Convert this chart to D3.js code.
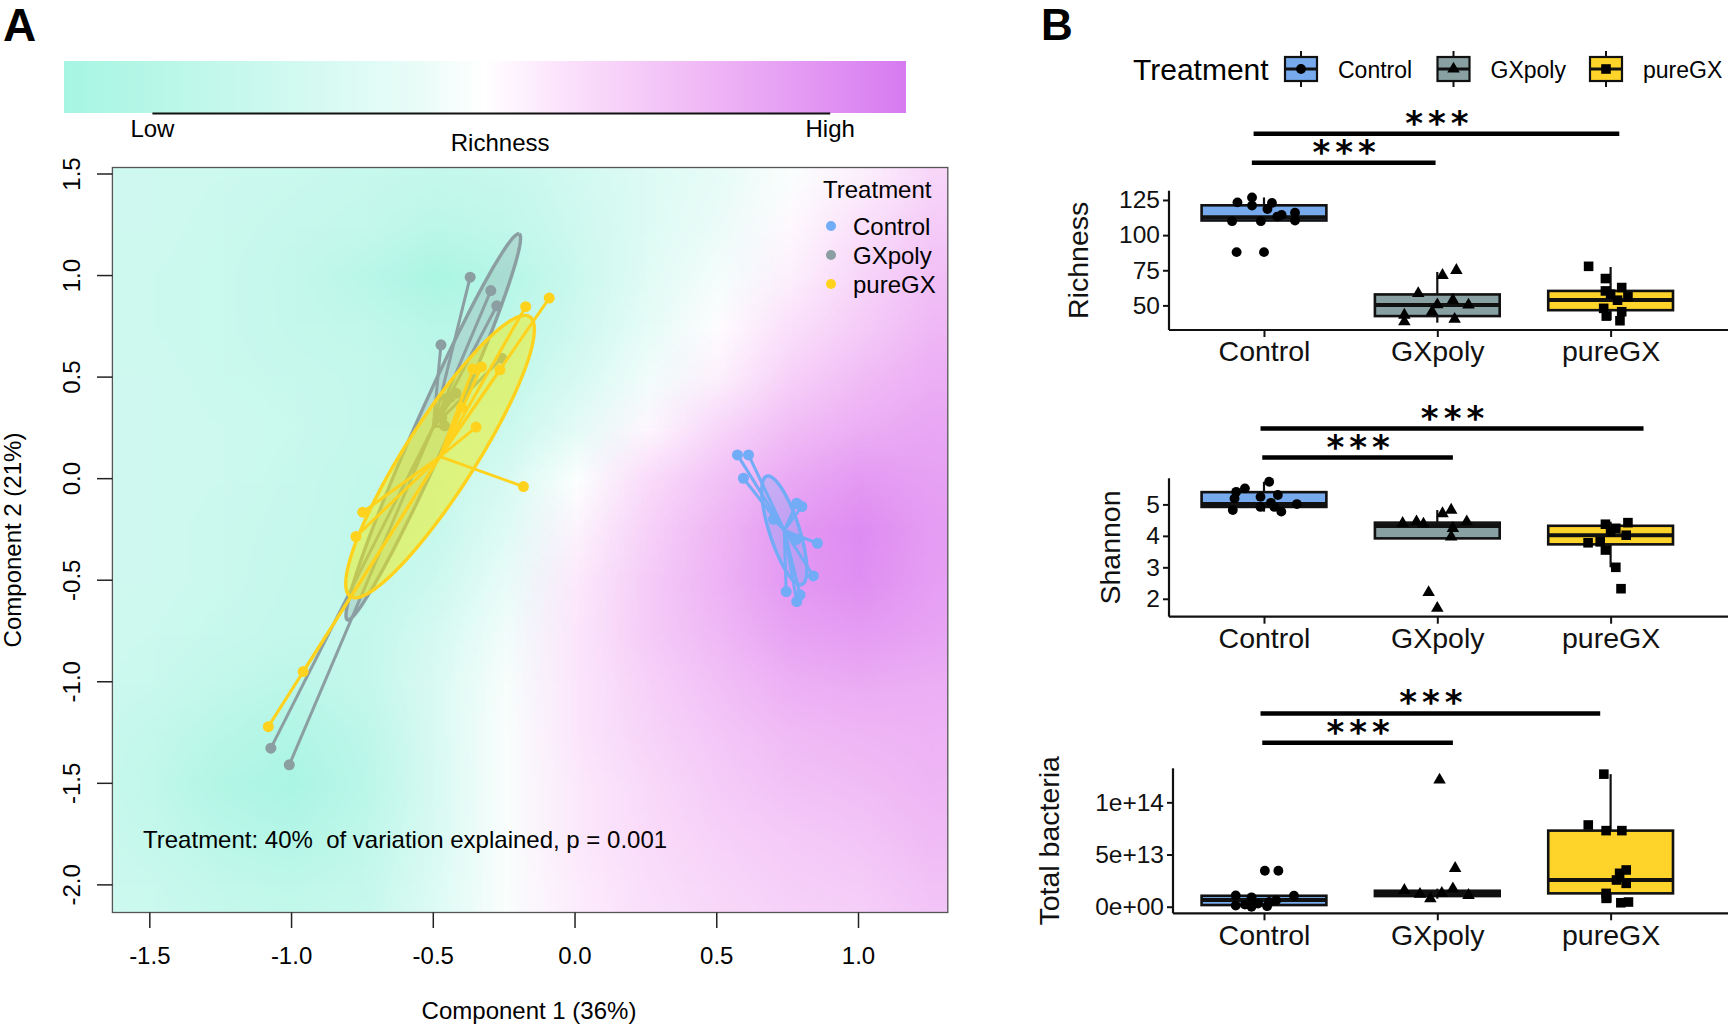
<!DOCTYPE html>
<html><head><meta charset="utf-8">
<script src="https://cdn.jsdelivr.net/npm/d3@7"></script>
<style>
body{margin:0;background:#fff;}
svg{display:block;font-family:"Liberation Sans",Arial,Helvetica,sans-serif;}
</style></head><body>
<svg id="chart" width="1728" height="1029"></svg>
<script>
// ================= DATA =================
const groups = ["Control", "GXpoly", "pureGX"];

// ---- Panel A: ordination scores [Component 1, Component 2]
const pcaControl = [[0.573,0.117],[0.612,0.117],[0.594,0.002],[0.782,-0.121],[0.800,-0.137],[0.855,-0.318],[0.841,-0.479],[0.745,-0.556],[0.794,-0.572],[0.782,-0.605],[0.70,-0.20],[0.78,-0.30]];
const pcaGXpoly = [[-0.370,0.992],[-0.297,0.926],[-0.276,0.851],[-0.473,0.659],[-0.259,0.593],[-1.073,-1.327],[-1.008,-1.409],[-0.47,0.30],[-0.42,0.42],[-0.46,0.26],[-0.44,0.40],[-0.454,0.395]];
const pcaPureGX = [[-0.091,0.889],[-0.174,0.847],[-0.265,0.536],[-0.349,0.254],[-0.182,-0.039],[-0.749,-0.165],[-0.773,-0.285],[-0.959,-0.950],[-1.082,-1.221],[-0.40,0.35],[-0.33,0.55],[-0.36,0.54]];
// ellipse semi-axis vectors (data units): [major dx, major dy, minor dx, minor dy]
const ellipseControl = [0.0618, -0.267, 0.050, 0.0227];
const ellipseGXpoly = [0.303, 0.950, 0.0548, -0.0340];
const ellipsePureGX = [0.316, 0.689, 0.104, -0.093];

const pcaXTicks = [-1.5, -1.0, -0.5, 0.0, 0.5, 1.0];
const pcaXTickLabels = ["-1.5", "-1.0", "-0.5", "0.0", "0.5", "1.0"];
const pcaYTicks = [1.5, 1.0, 0.5, 0.0, -0.5, -1.0, -1.5, -2.0];
const pcaYTickLabels = ["1.5", "1.0", "0.5", "0.0", "-0.5", "-1.0", "-1.5", "-2.0"];

// fitted richness surface (relative, 0 = low, 100 = high) on a grid
const surfaceX = [-1.75,-1.5,-1.25,-1.0,-0.75,-0.5,-0.25,0,0.25,0.5,0.75,1.0,1.25,1.5];
const surfaceY = [1.75,1.5,1.25,1.0,0.75,0.5,0.25,0,-0.25,-0.5,-0.75,-1.0,-1.25,-1.5,-1.75,-2.0,-2.25];
const surfaceRichness = [
  [25,25,25,24,23,22,26,33,40,45,50,56,62,64],
  [26,26,25,23,21,19,21,28,35,41,48,55,64,66],
  [26,26,24,21,19,14,17,26,35,43,52,60,68,70],
  [26,25,23,19,13, 4,10,24,37,46,55,64,73,74],
  [26,25,23,20,17,12,14,26,40,51,60,68,76,77],
  [27,26,24,22,20,15,18,31,45,55,66,74,80,80],
  [27,26,25,23,20,18,24,39,53,64,74,80,83,82],
  [27,26,25,22,18,19,31,49,62,72,82,88,85,84],
  [27,26,24,21,17,21,36,54,66,77,88,93,87,84],
  [27,26,24,20,17,25,42,57,68,78,88,92,86,83],
  [27,25,22,19,19,30,45,58,68,76,84,87,84,82],
  [26,23,18,14,19,33,47,58,66,73,79,81,80,79],
  [24,19,12, 7,15,32,48,58,65,70,75,77,78,77],
  [24,17, 8, 3,13,31,48,57,63,68,72,74,77,76],
  [25,20,13, 9,16,32,48,57,62,66,69,71,75,74],
  [26,23,18,16,20,34,48,56,61,64,67,68,72,72],
  [27,25,22,20,23,36,48,56,60,63,65,66,70,70]
];
const colorbarTicks = [10.5, 91];
const colorbarTickLabels = ["Low", "High"];
const annotationA = "Treatment: 40%  of variation explained, p = 0.001";

// ---- Panel B: Richness
const richnessControl = [123.3,126.8,121,122.9,118.6,109.9,109.9,113.2,114.4,116,110.4,87.9,87.9];
const richnessGXpoly = [58.5,43.1,38.4,45.5,71.4,75,53.8,50.3,40.2,50.5];
const richnessPureGX = [77.8,69.1,60.3,62.7,56.1,53.7,47.9,42.4,45.5,39.1,58];
const richnessJitterControl = [-0.153,-0.069,-0.069,0.046,0.02,-0.184,-0.018,0.077,0.102,0.179,0.179,-0.158,0];
const richnessJitterGXpoly = [-0.11,-0.19,-0.19,-0.03,0.03,0.11,0.09,0.18,0.10,0.0];
const richnessJitterPureGX = [-0.127,-0.03,-0.03,0.064,0.10,0.04,-0.04,-0.025,0.064,0.054,0.0];
// box stats: [lower whisker, Q1, median, Q3, upper whisker]
const richnessBoxes = [[109.9,110.4,112.7,121.2,126.8],[37.7,42.4,50.3,57.8,73.8],[39.6,46.6,53.9,60.3,77.3]];
const richnessTicks = [50, 75, 100, 125];
const richnessTickLabels = ["50", "75", "100", "125"];

// ---- Panel B: Shannon
const shannonControl = [4.82,5.40,5.51,5.72,5.24,4.92,5.30,4.92,4.77,5.01,5.19,5.05];
const shannonGXpoly = [4.40,4.45,4.71,4.82,4.45,4.24,3.97,2.2,1.7,4.38];
const shannonPureGX = [4.37,4.42,3.78,3.55,3.0,2.32,4.02,4.13,3.81,4.24];
const shannonJitterControl = [-0.18,-0.16,-0.11,0.03,-0.02,-0.02,0.08,0.06,0.10,0.19,-0.17,0.04];
const shannonJitterGXpoly = [-0.2,-0.12,0.03,0.08,0.17,0.09,0.08,-0.05,0,-0.08];
const shannonJitterPureGX = [-0.03,0.1,-0.13,-0.03,0.03,0.06,0.09,0,-0.06,0.03];
const shannonBoxes = [[4.77,4.92,5.01,5.39,5.72],[3.92,3.92,4.31,4.42,4.82],[3.0,3.73,4.02,4.32,4.45]];
const shannonTicks = [2, 3, 4, 5];
const shannonTickLabels = ["2", "3", "4", "5"];

// ---- Panel B: Total bacteria
const bacteriaControl = [3.45e13,3.45e13,1.08e13,0.12e13,0.9e13,0.0,0.05e13,0.6e13,1.05e13,0.3e13,0.45e13,0.2e13];
const bacteriaGXpoly = [12.15e13,3.68e13,1.57e13,0.77e13,1.73e13,1.09e13,1.3e13,1.2e13];
const bacteriaPureGX = [12.7e13,7.83e13,7.29e13,7.29e13,3.52e13,3.2e13,2.24e13,2.56e13,1.28e13,0.8e13,0.38e13,0.45e13];
const bacteriaJitterControl = [0.005,0.083,-0.163,-0.163,-0.072,-0.072,0.018,0.07,0.173,-0.034,0.031,-0.11];
const bacteriaJitterGXpoly = [0.013,0.103,-0.19,-0.04,0.09,0.18,0.026,-0.1];
const bacteriaJitterPureGX = [-0.039,-0.129,-0.026,0.065,0.09,0.052,0.09,0.034,-0.026,-0.026,0.059,0.103];
const bacteriaBoxes = [[0,0.16e13,0.64e13,1.05e13,1.1e13],[0.77e13,1.02e13,1.25e13,1.53e13,1.73e13],[0.38e13,1.28e13,2.56e13,7.29e13,12.7e13]];
const bacteriaTicks = [0, 5e13, 1e14];
const bacteriaTickLabels = ["0e+00", "5e+13", "1e+14"];

// significance brackets: [from category pos, to category pos, height (data units)]
const sigRichness = [[0.93, 1.99, 151.4], [0.94, 3.05, 172.1]];
const sigShannon = [[0.99, 2.09, 6.49], [0.98, 3.19, 7.41]];
const sigBacteria = [[0.99, 2.09, 1.571e14], [0.98, 2.94, 1.852e14]];
const sigLabel = "***";

// ================= STYLE =================
const pcaColors = ["#72abf6", "#8b9ea1", "#ffd21e"];
const ellipseFills = ["#72abf6", "#8b9ea1", "#f2ee10"];
const boxFills = ["#76aaec", "#89a0a3", "#ffd42a"];
const shapes = [d3.symbolCircle, d3.symbolTriangle, d3.symbolSquare];
const shapeSizes = [76, 68, 92];
const rampStops = [0, 25, 42, 50, 60, 78, 100];
const rampColors = ["#a6f5e2", "#cdf9ef", "#e9fcf8", "#ffffff", "#fbe0fb", "#eeb3f5", "#d77af1"];
const surfaceColor = d3.scaleLinear().domain(rampStops).range(rampColors).interpolate(d3.interpolateRgb).clamp(true);

const svg = d3.select("#chart");

// ================= PANEL A =================
svg.append("text").attr("x", 3).attr("y", 41).attr("font-size", 46).attr("font-weight", "bold").text("A");

// colour bar
const cbX = d3.scaleLinear().domain([0, 100]).range([64, 906]);
const defs = svg.append("defs");
const grad = defs.append("linearGradient").attr("id", "cbgrad").attr("x1", "0%").attr("x2", "100%");
rampStops.forEach((s, i) => grad.append("stop").attr("offset", s + "%").attr("stop-color", rampColors[i]));
svg.append("rect").attr("x", cbX(0)).attr("y", 61).attr("width", cbX(100) - cbX(0)).attr("height", 52).attr("fill", "url(#cbgrad)");
svg.append("line").attr("x1", cbX(colorbarTicks[0])).attr("x2", cbX(colorbarTicks[1])).attr("y1", 113.5).attr("y2", 113.5)
  .attr("stroke", "#111").attr("stroke-width", 2);
colorbarTicks.forEach((t, i) => svg.append("text").attr("x", cbX(t)).attr("y", 137).attr("text-anchor", "middle")
  .attr("font-size", 24).text(colorbarTickLabels[i]));
svg.append("text").attr("x", cbX(51.8)).attr("y", 151).attr("text-anchor", "middle").attr("font-size", 24).text("Richness");

const xA = d3.scaleLinear().domain([-1.632, 1.315]).range([112.4, 947.8]);
const yA = d3.scaleLinear().domain([-2.136, 1.532]).range([912.5, 167.5]);
defs.append("clipPath").attr("id", "clipA").append("rect")
  .attr("x", xA.range()[0]).attr("y", yA.range()[1]).attr("width", xA.range()[1] - xA.range()[0]).attr("height", yA.range()[0] - yA.range()[1]);

// surface image
const nc = surfaceX.length, nr = surfaceY.length;
const cv = document.createElement("canvas"); cv.width = nc; cv.height = nr;
const ctx = cv.getContext("2d");
const imgData = ctx.createImageData(nc, nr);
surfaceRichness.forEach((row, j) => row.forEach((v, i) => {
  const c = d3.rgb(surfaceColor(v)); const k = 4 * (j * nc + i);
  imgData.data[k] = c.r; imgData.data[k + 1] = c.g; imgData.data[k + 2] = c.b; imgData.data[k + 3] = 255;
}));
ctx.putImageData(imgData, 0, 0);
const sdx = surfaceX[1] - surfaceX[0], sdy = surfaceY[0] - surfaceY[1];
const gA = svg.append("g").attr("clip-path", "url(#clipA)");
const ix0 = xA(surfaceX[0] - sdx / 2), ix1 = xA(surfaceX[nc - 1] + sdx / 2);
const iy0 = yA(surfaceY[0] + sdy / 2), iy1 = yA(surfaceY[nr - 1] - sdy / 2);
gA.append("image").attr("href", cv.toDataURL()).attr("x", ix0).attr("y", iy0)
  .attr("width", ix1 - ix0).attr("height", iy1 - iy0).attr("preserveAspectRatio", "none");

// groups: ellipses, spiders, points
const pcaSets = [pcaControl, pcaGXpoly, pcaPureGX];
const ellipses = [ellipseControl, ellipseGXpoly, ellipsePureGX];
const fillOpac = [0.3, 0.3, 0.5];
const drawOrder = [1, 2, 0];
const line = d3.line().x(d => xA(d[0])).y(d => yA(d[1]));
drawOrder.forEach(gi => {
  const pts = pcaSets[gi];
  const cx = d3.mean(pts, d => d[0]), cy = d3.mean(pts, d => d[1]);
  const e = ellipses[gi];
  const ring = d3.range(0, 361, 3).map(a => {
    const t = a * Math.PI / 180;
    return [cx + Math.cos(t) * e[0] + Math.sin(t) * e[2], cy + Math.cos(t) * e[1] + Math.sin(t) * e[3]];
  });
  gA.append("path").attr("d", line(ring)).attr("fill", ellipseFills[gi]).attr("fill-opacity", fillOpac[gi])
    .attr("stroke", pcaColors[gi]).attr("stroke-width", 3.4);
  pts.forEach(p => gA.append("path").attr("d", line([[cx, cy], p])).attr("stroke", pcaColors[gi])
    .attr("stroke-width", 3).attr("fill", "none"));
  pts.forEach(p => gA.append("circle").attr("cx", xA(p[0])).attr("cy", yA(p[1])).attr("r", 5.5).attr("fill", pcaColors[gi]));
});

// border
svg.append("rect").attr("x", xA.range()[0]).attr("y", yA.range()[1]).attr("width", xA.range()[1] - xA.range()[0])
  .attr("height", yA.range()[0] - yA.range()[1]).attr("fill", "none").attr("stroke", "#555").attr("stroke-width", 1.3);

// axes A
pcaXTicks.forEach((t, i) => {
  svg.append("line").attr("x1", xA(t)).attr("x2", xA(t)).attr("y1", 912.5).attr("y2", 928).attr("stroke", "#222").attr("stroke-width", 1.5);
  svg.append("text").attr("x", xA(t)).attr("y", 964).attr("text-anchor", "middle").attr("font-size", 24).text(pcaXTickLabels[i]);
});
pcaYTicks.forEach((t, i) => {
  svg.append("line").attr("x1", 97).attr("x2", 112.4).attr("y1", yA(t)).attr("y2", yA(t)).attr("stroke", "#222").attr("stroke-width", 1.5);
  svg.append("text").attr("transform", `translate(80,${yA(t)}) rotate(-90)`).attr("text-anchor", "middle")
    .attr("font-size", 24).text(pcaYTickLabels[i]);
});
svg.append("text").attr("x", 529).attr("y", 1019).attr("text-anchor", "middle").attr("font-size", 24).text("Component 1 (36%)");
svg.append("text").attr("transform", "translate(21,540) rotate(-90)").attr("text-anchor", "middle").attr("font-size", 24).text("Component 2 (21%)");
svg.append("text").attr("x", xA(-1.524)).attr("y", 848).attr("font-size", 24).style("white-space", "pre").text(annotationA);

// legend A
svg.append("text").attr("x", 823).attr("y", 198).attr("font-size", 24).text("Treatment");
groups.forEach((g, i) => {
  const yy = 226 + i * 29;
  svg.append("circle").attr("cx", 831).attr("cy", yy).attr("r", 5).attr("fill", pcaColors[i]);
  svg.append("text").attr("x", 853).attr("y", yy + 8.5).attr("font-size", 24).text(g);
});

// ================= PANEL B =================
svg.append("text").attr("x", 1041).attr("y", 40).attr("font-size", 44).attr("font-weight", "bold").text("B");

// legend B
svg.append("text").attr("x", 1133).attr("y", 80).attr("font-size", 30).text("Treatment");
const keyX = d3.scalePoint().domain(groups).range([1301, 1606]);
groups.forEach((g, i) => {
  const kx = keyX(g);
  svg.append("line").attr("x1", kx).attr("x2", kx).attr("y1", 51).attr("y2", 87).attr("stroke", "#111").attr("stroke-width", 2);
  svg.append("rect").attr("x", kx - 16).attr("y", 57).attr("width", 32).attr("height", 24).attr("fill", boxFills[i])
    .attr("stroke", "#111").attr("stroke-width", 2.2);
  svg.append("line").attr("x1", kx - 16).attr("x2", kx + 16).attr("y1", 69).attr("y2", 69).attr("stroke", "#111").attr("stroke-width", 3);
  svg.append("path").attr("d", d3.symbol().type(shapes[i]).size(shapeSizes[i])()).attr("transform", `translate(${kx},69)`).attr("fill", "#000");
  svg.append("text").attr("x", kx + 37).attr("y", 77.5).attr("font-size", 23).text(g);
});

function boxPanel(cfg) {
  const g = svg.append("g");
  const x = d3.scalePoint().domain(groups).range([1160, 1714.6]).padding(0.6);
  const step = x.step();
  const catPos = p => x(groups[0]) + (p - 1) * step;
  const y = d3.scaleLinear().domain(cfg.domain).range([cfg.bottom, cfg.top]);
  const bw = step * 0.72;
  groups.forEach((grp, i) => {
    const [lo, q1, med, q3, hi] = cfg.boxes[i];
    const cx = x(grp);
    g.append("line").attr("x1", cx).attr("x2", cx).attr("y1", y(q3)).attr("y2", y(hi)).attr("stroke", "#111").attr("stroke-width", 2.2);
    g.append("line").attr("x1", cx).attr("x2", cx).attr("y1", y(q1)).attr("y2", y(lo)).attr("stroke", "#111").attr("stroke-width", 2.2);
    g.append("rect").attr("x", cx - bw / 2).attr("y", y(q3)).attr("width", bw).attr("height", y(q1) - y(q3))
      .attr("fill", boxFills[i]).attr("stroke", "#111").attr("stroke-width", 2.6);
    g.append("line").attr("x1", cx - bw / 2).attr("x2", cx + bw / 2).attr("y1", y(med)).attr("y2", y(med)).attr("stroke", "#111").attr("stroke-width", 4);
  });
  groups.forEach((grp, i) => {
    cfg.values[i].forEach((v, k) => {
      g.append("path").attr("d", d3.symbol().type(shapes[i]).size(shapeSizes[i])())
        .attr("transform", `translate(${x(grp) + cfg.jitter[i][k] * step},${y(v)})`).attr("fill", "#000");
    });
  });
  // axes
  const ax = g.append("g").attr("transform", `translate(0,${cfg.bottom})`)
    .call(d3.axisBottom(x).tickSize(7).tickPadding(4).tickSizeOuter(0));
  ax.select(".domain").remove();
  ax.selectAll("line").attr("stroke", "#111").attr("stroke-width", 2);
  ax.selectAll("text").attr("font-size", 28.5).attr("font-family", '"Liberation Sans",Arial,sans-serif').attr("fill", "#111");
  g.append("line").attr("x1", cfg.axisX).attr("x2", 1728).attr("y1", cfg.bottom).attr("y2", cfg.bottom).attr("stroke", "#111").attr("stroke-width", 2.2);
  const ay = g.append("g").attr("transform", `translate(${cfg.axisX},0)`)
    .call(d3.axisLeft(y).tickValues(cfg.ticks).tickFormat((d, i) => cfg.tickLabels[i]).tickSize(6).tickPadding(3).tickSizeOuter(0));
  ay.select(".domain").remove();
  ay.selectAll("line").attr("stroke", "#111").attr("stroke-width", 2);
  ay.selectAll("text").attr("font-size", 24.5).attr("font-family", '"Liberation Sans",Arial,sans-serif').attr("fill", "#111");
  g.append("line").attr("x1", cfg.axisX).attr("x2", cfg.axisX).attr("y1", cfg.top).attr("y2", cfg.bottom).attr("stroke", "#111").attr("stroke-width", 2.2);
  g.append("text").attr("transform", `translate(${cfg.titleX},${(cfg.top + cfg.bottom) / 2}) rotate(-90)`)
    .attr("text-anchor", "middle").attr("font-size", 28.5).attr("fill", "#111").text(cfg.title);
  // significance
  cfg.sig.forEach(s => {
    const x1 = catPos(s[0]), x2 = catPos(s[1]), yy = y(s[2]);
    g.append("line").attr("x1", x1).attr("x2", x2).attr("y1", yy).attr("y2", yy).attr("stroke", "#000").attr("stroke-width", 4.5);
    g.append("text").attr("x", (x1 + x2) / 2 + 3).attr("y", yy + 1).attr("text-anchor", "middle")
      .attr("font-family", '"DejaVu Sans",sans-serif').attr("font-weight", "bold").attr("font-size", 34)
      .attr("letter-spacing", 5).text(sigLabel);
  });
}

boxPanel({axisX: 1169, top: 190.7, bottom: 330, domain: [32.5, 131.6],
  boxes: richnessBoxes, values: [richnessControl, richnessGXpoly, richnessPureGX],
  jitter: [richnessJitterControl, richnessJitterGXpoly, richnessJitterPureGX],
  ticks: richnessTicks, tickLabels: richnessTickLabels, title: "Richness", titleX: 1088, sig: sigRichness});
boxPanel({axisX: 1169, top: 478.3, bottom: 616.7, domain: [1.43, 5.83],
  boxes: shannonBoxes, values: [shannonControl, shannonGXpoly, shannonPureGX],
  jitter: [shannonJitterControl, shannonJitterGXpoly, shannonJitterPureGX],
  ticks: shannonTicks, tickLabels: shannonTickLabels, title: "Shannon", titleX: 1120, sig: sigShannon});
boxPanel({axisX: 1173, top: 768.3, bottom: 913.3, domain: [-0.063e14, 1.326e14],
  boxes: bacteriaBoxes, values: [bacteriaControl, bacteriaGXpoly, bacteriaPureGX],
  jitter: [bacteriaJitterControl, bacteriaJitterGXpoly, bacteriaJitterPureGX],
  ticks: bacteriaTicks, tickLabels: bacteriaTickLabels, title: "Total bacteria", titleX: 1059, sig: sigBacteria});
</script>
</body></html>
